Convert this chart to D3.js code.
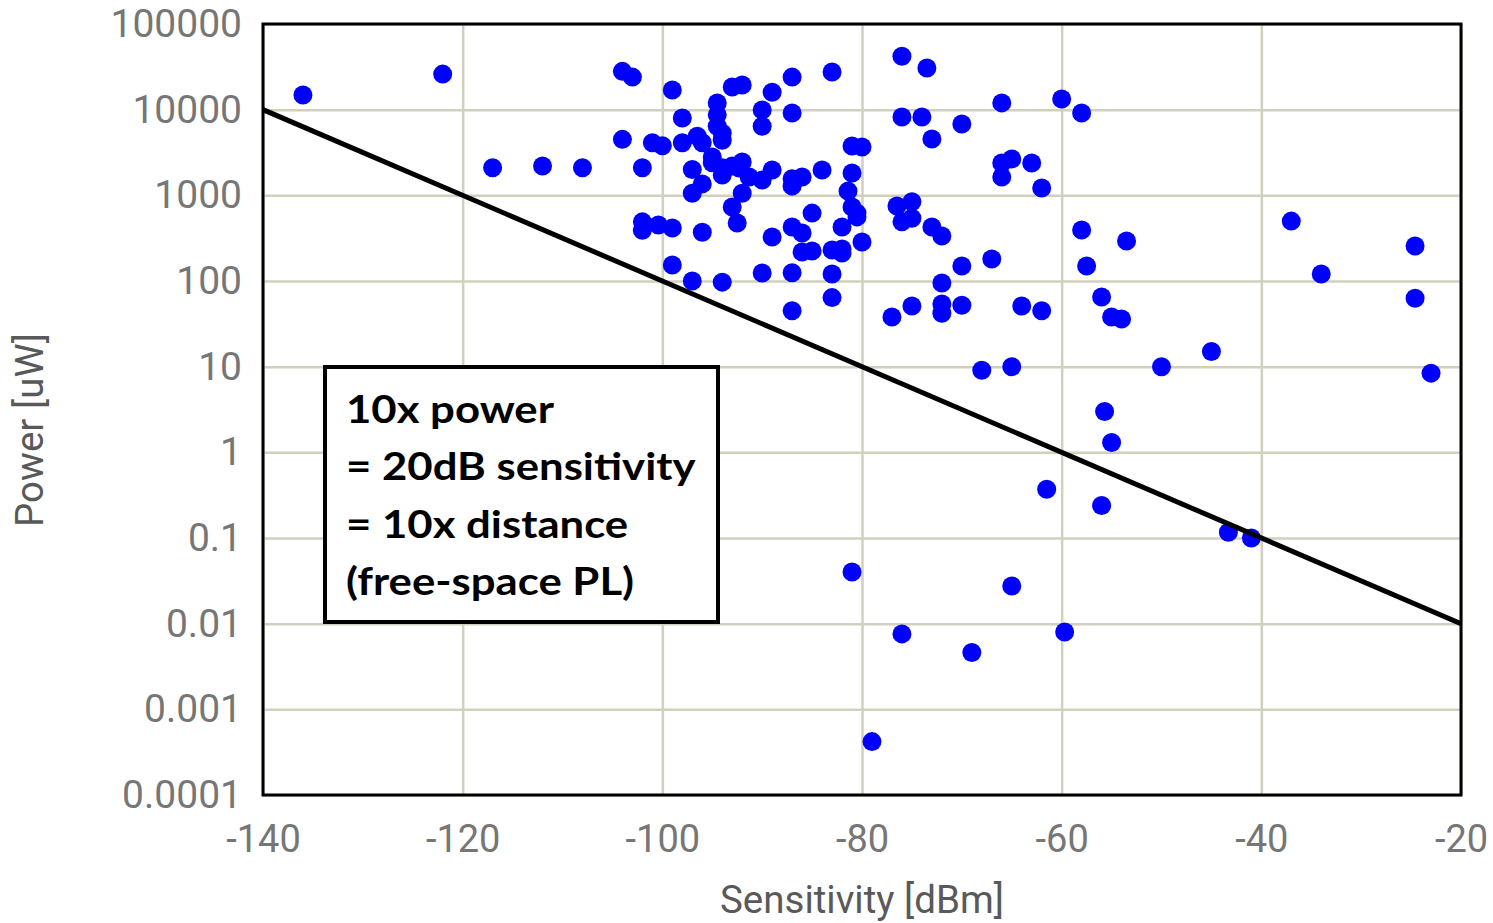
<!DOCTYPE html>
<html>
<head>
<meta charset="utf-8">
<script src="https://cdn.jsdelivr.net/npm/d3@7"></script>
<style>
  body { margin: 0; background: #fff; }
  svg { display: block; }
</style>
</head>
<body>
<svg id="chart" width="1493" height="923"></svg>
<script>
// sensitivity [dBm] and power [uW] of each device
const sensitivity = [
  -136, -122, -117, -112, -108, -104, -103, -104, -101, -100,
  -102, -102, -102, -100.4, -99, -99, -98, -98, -96.5, -96,
  -97, -96, -97, -96, -99, -97, -94, -94.5, -94.5, -94.5,
  -94, -94, -93, -92, -95, -95, -94, -94, -93, -92,
  -92.3, -91.3, -92, -93, -92.5, -90, -90, -89, -89, -90,
  -89, -90, -87, -87, -87, -86, -87, -84, -85, -87,
  -86, -86, -85, -83, -82, -82, -82, -87, -83, -83,
  -87, -83, -81, -80, -81, -81.4, -81, -80.5, -80.5, -80,
  -76, -73.5, -76, -74, -73, -70, -76.5, -75, -76, -75,
  -73, -72, -66, -60, -58, -66, -65, -63, -66, -62,
  -58, -57.5, -53.5, -70, -67, -72, -56, -75, -77, -72,
  -72, -70, -64, -62, -55, -54, -37, -24.6, -34, -24.6,
  -45, -50, -23, -68, -65, -55.7, -55, -61.5, -56, -43.3,
  -41, -81, -65, -76, -69, -59.7, -79
];
const power = [
  14800, 26000, 2100, 2200, 2100, 28000, 24000, 4500, 4100, 3800,
  2100, 490, 390, 450, 415, 17000, 8000, 4100, 4900, 4100,
  2000, 1360, 1060, 370, 154, 100, 97, 12000, 8700, 6400,
  5300, 4400, 18400, 19400, 2800, 2400, 2100, 1730, 2200, 2450,
  2080, 1640, 1060, 730, 476, 9900, 6400, 16000, 1980, 1510,
  326, 124, 24000, 9150, 1560, 1640, 1280, 1980, 620, 427,
  363, 218, 224, 230, 236, 212, 427, 125, 121, 64,
  45, 27500, 3770, 3670, 1820, 1120, 730, 620, 560, 285,
  42000, 30600, 8200, 8200, 4550, 6800, 750, 840, 490, 540,
  427, 335, 12000, 13300, 9150, 2390, 2660, 2390, 1640, 1220,
  394, 150, 293, 150, 181, 95, 65, 51, 38, 54,
  42, 52, 51, 45, 38, 36, 500, 256, 121, 63,
  15, 10, 8.4, 9.1, 10, 3.0, 1.3, 0.37, 0.24, 0.117,
  0.1, 0.04, 0.0275, 0.0076, 0.0046, 0.008, 0.00042
];

// free-space path loss guide: 10x power per 20 dB
const guideLine = [
  { x: -140, y: 10000 },
  { x: -20, y: 0.01 }
];

const xTicks = [-140, -120, -100, -80, -60, -40, -20];
const yTicks = [0.0001, 0.001, 0.01, 0.1, 1, 10, 100, 1000, 10000, 100000];
const yTickLabels = ["0.0001", "0.001", "0.01", "0.1", "1", "10", "100", "1000", "10000", "100000"];

const noteLines = ["10x power", "= 20dB sensitivity", "= 10x distance", "(free-space PL)"];

const points = sensitivity.map((s, i) => ({ x: s, y: power[i] }));

const margin = { top: 24, right: 32, bottom: 128, left: 263 };
const svg = d3.select("#chart");
const width = +svg.attr("width") - margin.left - margin.right;
const height = +svg.attr("height") - margin.top - margin.bottom;

const x = d3.scaleLinear().domain([-140, -20]).range([0, width]);
const y = d3.scaleLog().domain([0.0001, 100000]).range([height, 0]);

const g = svg.append("g").attr("transform", `translate(${margin.left},${margin.top})`);

svg.append("defs").append("clipPath").attr("id", "plot-clip")
  .append("rect").attr("width", width).attr("height", height);

// gridlines
g.append("g")
  .attr("class", "grid-x")
  .call(d3.axisBottom(x).tickValues(xTicks).tickSize(height).tickFormat(""))
  .call((sel) => sel.select(".domain").remove())
  .selectAll("line")
  .attr("stroke", "#d0d0bd")
  .attr("stroke-width", 2.5);

g.append("g")
  .attr("class", "grid-y")
  .call(d3.axisLeft(y).tickValues(yTicks).tickSize(-width).tickFormat(""))
  .call((sel) => sel.select(".domain").remove())
  .selectAll("line")
  .attr("stroke", "#d0d0bd")
  .attr("stroke-width", 2.5);

// tick labels (plain hyphen, like the original)
const xAxis = g.append("g")
  .attr("transform", `translate(0,${height})`)
  .call(d3.axisBottom(x).tickValues(xTicks).tickSize(0).tickPadding(30).tickFormat((d) => String(d)));
xAxis.select(".domain").remove();
xAxis.selectAll("text")
  .attr("font-family", "Roboto")
  .attr("font-size", 38)
  .attr("fill", "#767676");

const yAxis = g.append("g")
  .call(d3.axisLeft(y).tickValues(yTicks).tickSize(0).tickPadding(21)
    .tickFormat((d, i) => yTickLabels[i]));
yAxis.select(".domain").remove();
yAxis.selectAll("text")
  .attr("font-family", "Roboto")
  .attr("font-size", 39)
  .attr("fill", "#767676");

// dots
g.append("g")
  .attr("clip-path", "url(#plot-clip)")
  .selectAll("circle")
  .data(points)
  .join("circle")
  .attr("cx", (d) => x(d.x))
  .attr("cy", (d) => y(d.y))
  .attr("r", 9.5)
  .attr("fill", "#0000ff");

// guide line on top of dots
const line = d3.line().x((d) => x(d.x)).y((d) => y(d.y));
g.append("path")
  .datum(guideLine)
  .attr("clip-path", "url(#plot-clip)")
  .attr("d", line)
  .attr("fill", "none")
  .attr("stroke", "#000")
  .attr("stroke-width", 5);

// plot frame
g.append("rect")
  .attr("width", width)
  .attr("height", height)
  .attr("fill", "none")
  .attr("stroke", "#000")
  .attr("stroke-width", 3);

// note box
const note = g.append("g").attr("transform", `translate(${325 - margin.left},${367 - margin.top})`);
note.append("rect")
  .attr("width", 393)
  .attr("height", 255)
  .attr("fill", "#fff")
  .attr("stroke", "#000")
  .attr("stroke-width", 4);
note.append("g")
  .attr("transform", "translate(21,0) scale(1.15,1)")
  .selectAll("text")
  .data(noteLines)
  .join("text")
  .attr("x", 0)
  .attr("y", (d, i) => 56 + i * 57.5)
  .attr("font-family", "Lato")
  .attr("font-weight", "bold")
  .attr("font-size", 38)
  .attr("fill", "#000")
  .text((d) => d);

// axis titles
svg.append("text")
  .attr("x", margin.left + width / 2)
  .attr("y", 913)
  .attr("text-anchor", "middle")
  .attr("font-family", "Roboto")
  .attr("font-size", 38.5)
  .attr("fill", "#595959")
  .text("Sensitivity [dBm]");

svg.append("text")
  .attr("transform", "translate(43,430) rotate(-90)")
  .attr("text-anchor", "middle")
  .attr("font-family", "Roboto")
  .attr("font-size", 38.5)
  .attr("fill", "#595959")
  .text("Power [uW]");
</script>
</body>
</html>
